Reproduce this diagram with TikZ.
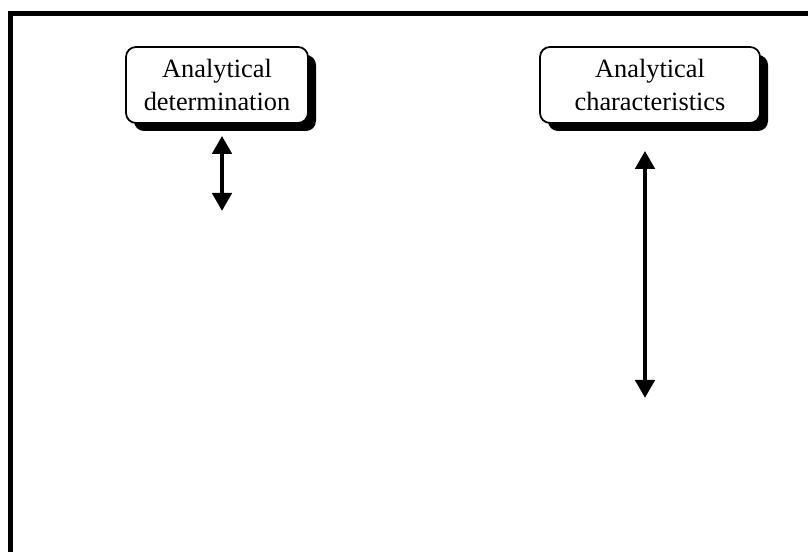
\documentclass[tikz,border=0pt]{standalone}
\usepackage{fontspec}
\setmainfont{Liberation Serif}
\usetikzlibrary{positioning,arrows.meta,shadows}
\tikzset{
thing/.style={draw, rounded corners=0.1cm, line width=0.5pt, fill=white, align=center,
  font=\fontsize{7.5}{9.2}\selectfont, inner sep=1pt, minimum height=0.76cm,
  drop shadow={shadow xshift=0.08cm, shadow yshift=-0.08cm, fill=black, opacity=1}},
twoway/.style={{Triangle[width=0.19cm,length=0.18cm]}-{Triangle[width=0.19cm,length=0.18cm]}, line width=1.4pt},
}
\begin{document}
\begin{tikzpicture}
\clip (0,0) rectangle (8.08,5.52);
\fill[white] (0,0) rectangle (8.08,5.52);
\draw[line width=1.42pt] (0.108,-0.5) rectangle (8.6,5.38);

\node[thing, minimum width=1.82cm] (det) at (2.17,4.67) {Analytical\\determination};
\node[thing, minimum width=2.20cm] (char) at (6.50,4.67) {Analytical\\characteristics};

\coordinate (detEnd) at (2.22,3.41);
\coordinate (charEnd) at (6.45,1.54);
\draw[twoway, shorten <=0.12cm] (det.south -| detEnd) -- (detEnd);
\draw[twoway, shorten <=0.27cm] (char.south -| charEnd) -- (charEnd);
\end{tikzpicture}
\end{document}
